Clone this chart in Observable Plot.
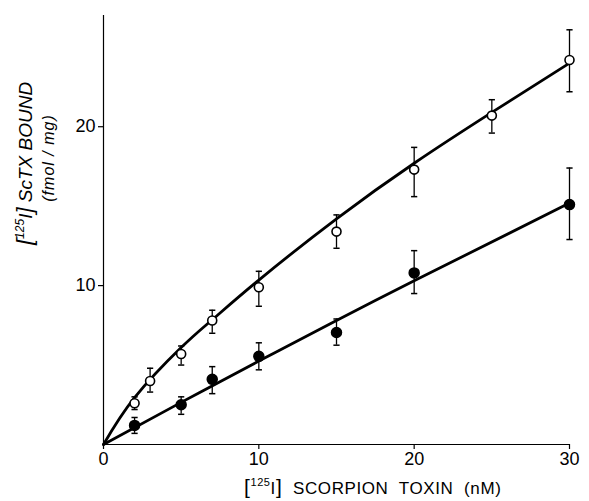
<!DOCTYPE html>
<html><head><meta charset="utf-8">
<script src="https://cdn.jsdelivr.net/npm/d3@7"></script>
<script src="https://cdn.jsdelivr.net/npm/@observablehq/plot@0.6"></script>
<style>body{margin:0;background:#fff;} svg{display:block;}</style>
</head><body><div id="chart"></div>
<script>
const openX = [2, 3, 5, 7, 10, 15, 20, 25, 30];
const openY = [2.6, 4.0, 5.7, 7.8, 9.9, 13.4, 17.3, 20.7, 24.2];
const openLo = [2.2, 3.3, 5.0, 7.0, 8.7, 12.35, 15.6, 19.6, 22.2];
const openHi = [3.0, 4.8, 6.2, 8.45, 10.9, 14.45, 18.7, 21.7, 26.1];
const filledX = [2, 5, 7, 10, 15, 20, 30];
const filledY = [1.2, 2.5, 4.1, 5.55, 7.05, 10.8, 15.1];
const filledLo = [0.7, 1.9, 3.2, 4.7, 6.25, 9.5, 12.9];
const filledHi = [1.7, 3.0, 4.9, 6.4, 7.9, 12.2, 17.4];
const curveOpenX = [0, 2, 5, 7, 10, 15, 20, 25, 30];
const curveOpenY = [0, 2.95, 6.1, 7.85, 10.35, 14.2, 17.7, 20.9, 24.0];
const curveFilledX = [0, 5, 10, 15, 20, 30];
const curveFilledY = [0, 2.65, 5.25, 7.8, 10.3, 15.2];
const xTicks = [0, 10, 20, 30];
const yTicks = [10, 20];

const openPts = openX.map((x, i) => ({x, y: openY[i], lo: openLo[i], hi: openHi[i]}));
const filledPts = filledX.map((x, i) => ({x, y: filledY[i], lo: filledLo[i], hi: filledHi[i]}));
const curveOpen = curveOpenX.map((x, i) => ({x, y: curveOpenY[i]}));
const curveFilled = curveFilledX.map((x, i) => ({x, y: curveFilledY[i]}));
const allPts = openPts.concat(filledPts);
const caps = allPts.flatMap(d => [{x: d.x, y: d.lo}, {x: d.x, y: d.hi}]);

const capSymbol = {draw(ctx, size) { const w = Math.sqrt(size) / 2; ctx.moveTo(-w, 0); ctx.lineTo(w, 0); }};
const FONT = "Liberation Sans, Arial, sans-serif";

const plot = Plot.plot({
  width: 589, height: 501,
  marginLeft: 103, marginRight: 20, marginTop: 15, marginBottom: 57,
  style: {fontFamily: FONT, fontSize: "18px", color: "#000", background: "#fff"},
  x: {domain: [0, 30]},
  y: {domain: [0, 27]},
  marks: [
    Plot.ruleY([0], {stroke: "#000", strokeWidth: 1.2}),
    Plot.ruleX([0], {stroke: "#000", strokeWidth: 1.2}),
    Plot.axisX({ticks: xTicks, tickSize: 5, tickPadding: 3, label: null, tickFormat: d => d, strokeWidth: 1.2}),
    Plot.axisY({ticks: yTicks, tickSize: 5, tickPadding: 3, label: null, tickFormat: d => d, strokeWidth: 1.2}),
    Plot.line(curveOpen, {x: "x", y: "y", curve: "natural", stroke: "#000", strokeWidth: 2.8}),
    Plot.line(curveFilled, {x: "x", y: "y", curve: "natural", stroke: "#000", strokeWidth: 2.8}),
    Plot.ruleX(allPts, {x: "x", y1: "lo", y2: "hi", stroke: "#000", strokeWidth: 1.3}),
    Plot.dot(caps, {x: "x", y: "y", symbol: capSymbol, r: 3.5, stroke: "#000", strokeWidth: 1.5, fill: "none"}),
    Plot.dot(openPts, {x: "x", y: "y", r: 4.5, fill: "#fff", stroke: "#000", strokeWidth: 1.6}),
    Plot.dot(filledPts, {x: "x", y: "y", r: 5, fill: "#000", stroke: "#000"})
  ]
});
document.getElementById("chart").appendChild(plot);

const svg = d3.select(plot);
const xl = svg.append("text").attr("x", 244).attr("y", 494).attr("text-anchor", "start")
  .style("font-size", "17px").style("font-family", FONT).style("letter-spacing", "0.6px").attr("fill", "#000");
xl.append("tspan").style("font-size", "21px").text("[");
xl.append("tspan").style("font-size", "11px").attr("dy", -8).text("125");
xl.append("tspan").attr("dy", 8).text("I");
xl.append("tspan").style("font-size", "21px").text("]");
xl.append("tspan").text("  SCORPION  TOXIN  (nM)");

const yl = svg.append("text").attr("transform", "translate(32,245) rotate(-90)").attr("text-anchor", "start")
  .style("font-size", "19px").style("font-style", "italic").style("font-family", FONT).attr("fill", "#000");
yl.append("tspan").style("font-size", "22px").text("[");
yl.append("tspan").style("font-size", "12px").attr("dy", -8).text("125");
yl.append("tspan").attr("dy", 8).text("I");
yl.append("tspan").style("font-size", "22px").text("]");
yl.append("tspan").text(" ScTX BOUND");

svg.append("text").attr("transform", "translate(54,158) rotate(-90)").attr("text-anchor", "middle")
  .style("font-size", "16px").style("font-style", "italic").style("font-family", FONT).style("letter-spacing", "1px").attr("fill", "#000")
  .text("(fmol / mg)");
</script>
</body></html>
